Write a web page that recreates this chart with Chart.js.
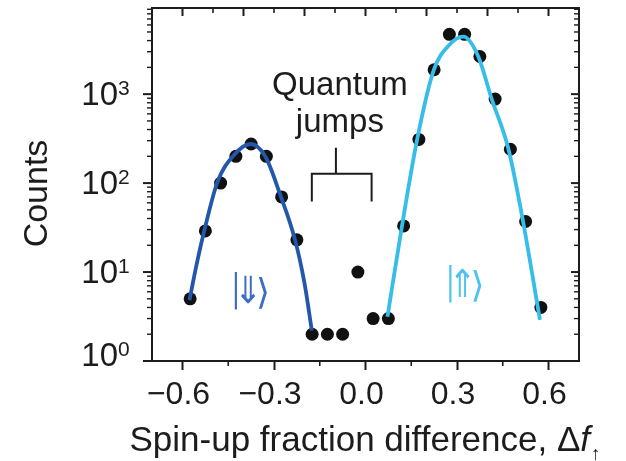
<!DOCTYPE html>
<html>
<head>
<meta charset="utf-8">
<script src="https://cdn.jsdelivr.net/npm/chart.js@4.4.1/dist/chart.umd.min.js"></script>
<style>
  html, body { margin: 0; padding: 0; background: #ffffff; }
  #wrap { width: 626px; height: 461px; position: relative; }
</style>
</head>
<body>
<div id="wrap"><canvas id="chart"></canvas></div>
<script>
// Histogram: bin centres of the spin-up fraction difference and counts per bin
const binCenters = [-0.575, -0.525, -0.475, -0.425, -0.375, -0.325, -0.275, -0.225,
                    -0.175, -0.125, -0.075, -0.025, 0.025, 0.075,
                    0.125, 0.175, 0.225, 0.275, 0.325, 0.375, 0.425, 0.475, 0.525, 0.575];
const counts = [5, 29, 100, 200, 275, 200, 70, 23,
                2, 2, 2, 10, 3, 3,
                33, 310, 1880, 4700, 4700, 2650, 880, 240, 37, 4];

// Fitted distribution for the |⇓⟩ state
const fitDownX = [-0.577, -0.553, -0.528, -0.485, -0.431, -0.377, -0.328, -0.279, -0.231, -0.200, -0.176];
const fitDownY = [4.85, 12.5, 29.7, 104, 207, 275, 198, 73, 23, 7.5, 2.2];

// Fitted distribution for the |⇑⟩ state
const fitUpX = [0.072, 0.119, 0.170, 0.224, 0.272, 0.321, 0.370, 0.413, 0.468, 0.516, 0.572];
const fitUpY = [3.15, 32, 318, 1870, 3500, 4425, 2640, 897, 246, 38, 2.9];

// Axis ticks
const xMajorTicks = [-0.6, -0.3, 0.0, 0.3, 0.6];
const xMinorTicks = [-0.45, -0.15, 0.15, 0.45];
const topMajorTicks = [-0.6, -0.4, -0.2, 0.0, 0.2, 0.4, 0.6];
const topMinorTicks = [-0.5, -0.3, -0.1, 0.1, 0.3, 0.5];
const yMajorTicks = [1, 10, 100, 1000];
const yTickExponents = ['0', '1', '2', '3'];
const yMinorTicks = [2, 3, 4, 5, 6, 7, 8, 9,
                     20, 30, 40, 50, 60, 70, 80, 90,
                     200, 300, 400, 500, 600, 700, 800, 900,
                     2000, 3000, 4000, 5000, 6000, 7000, 8000, 9000];

const FONT = "'Liberation Sans', Arial, Helvetica, sans-serif";
const INK = '#1c1c1c';
const DOWN_COLOR = '#2257ab';
const UP_COLOR = '#36bde9';

// Draw one glyph stretched into a box given as [x0, x1] x [y0, y1] offsets from (ox, oy)
function glyphInBox(ctx, g, font, ox, oy, box) {
  ctx.save();
  ctx.font = font;
  ctx.textAlign = 'left';
  ctx.textBaseline = 'alphabetic';
  const m = ctx.measureText(g);
  const inkL = -m.actualBoundingBoxLeft, inkR = m.actualBoundingBoxRight;
  const inkT = -m.actualBoundingBoxAscent, inkB = m.actualBoundingBoxDescent;
  const sx = (box[1] - box[0]) / (inkR - inkL);
  const sy = (box[3] - box[2]) / (inkB - inkT);
  ctx.translate(ox + box[0], oy + box[2]);
  ctx.scale(sx, sy);
  ctx.fillText(g, -inkL, -inkT);
  ctx.restore();
}

const decor = {
  id: 'decor',
  afterDatasetsDraw(chart) {
    const { ctx, chartArea: a, scales: { x, y } } = chart;
    ctx.save();
    ctx.strokeStyle = INK;
    ctx.lineCap = 'butt';
    const seg = (x1, y1, x2, y2, w) => {
      ctx.lineWidth = w;
      ctx.beginPath(); ctx.moveTo(x1, y1); ctx.lineTo(x2, y2); ctx.stroke();
    };
    // bottom minor ticks (outward)
    xMinorTicks.forEach(v => { const p = x.getPixelForValue(v); seg(p, a.bottom, p, a.bottom + 5, 1.6); });
    // top ticks (inward)
    topMajorTicks.forEach(v => { const p = x.getPixelForValue(v); seg(p, a.top, p, a.top + 8, 2); });
    topMinorTicks.forEach(v => { const p = x.getPixelForValue(v); seg(p, a.top, p, a.top + 5, 1.6); });
    // left ticks (outward) and right ticks (inward)
    yMajorTicks.forEach(v => {
      const p = y.getPixelForValue(v);
      seg(a.left - 9, p, a.left, p, 2);
      seg(a.right - 8, p, a.right, p, 2);
    });
    yMinorTicks.forEach(v => {
      const p = y.getPixelForValue(v);
      seg(a.left - 5, p, a.left, p, 1.4);
      seg(a.right - 5, p, a.right, p, 1.4);
    });
    // frame
    ctx.lineWidth = 2;
    ctx.strokeRect(a.left, a.top, a.right - a.left, a.bottom - a.top);
    ctx.restore();
  },
  afterDraw(chart) {
    const { ctx, chartArea: a, scales: { x, y } } = chart;
    ctx.save();
    ctx.fillStyle = INK;
    ctx.strokeStyle = INK;

    // y tick labels 10^n
    yMajorTicks.forEach((v, i) => {
      const p = y.getPixelForValue(v) + (i === 0 ? -4 : 2);
      ctx.font = `33px ${FONT}`;
      ctx.textAlign = 'right';
      ctx.textBaseline = 'middle';
      ctx.fillText('10', a.left - 34, p);
      ctx.font = `21px ${FONT}`;
      ctx.textAlign = 'left';
      ctx.fillText(yTickExponents[i], a.left - 34, p - 7);
    });

    // y axis title
    ctx.save();
    ctx.translate(a.left - 114, (a.top + a.bottom) / 2 + 9);
    ctx.rotate(-Math.PI / 2);
    ctx.font = `34px ${FONT}`;
    ctx.textAlign = 'center';
    ctx.textBaseline = 'middle';
    ctx.fillText('Counts', 0, 0);
    ctx.restore();

    // x axis title with italic f and arrow subscript
    const main = 'Spin-up fraction difference, Δ';
    ctx.textBaseline = 'alphabetic';
    ctx.textAlign = 'left';
    ctx.font = `35px ${FONT}`;
    const wMain = ctx.measureText(main).width;
    ctx.font = `italic 35px ${FONT}`;
    const wF = ctx.measureText('f').width;
    ctx.font = `19px ${FONT}`;
    const wArr = ctx.measureText('↑').width;
    const total = wMain + wF + wArr;
    let tx = (a.left + a.right) / 2 - total / 2 - 1;
    const base = 451;
    ctx.font = `35px ${FONT}`;
    ctx.fillText(main, tx, base);
    tx += wMain;
    ctx.font = `italic 35px ${FONT}`;
    ctx.fillText('f', tx, base);
    tx += wF + 1;
    ctx.font = `19px ${FONT}`;
    ctx.fillText('↑', tx, base + 9);

    // "Quantum jumps" annotation
    const qx = x.getPixelForValue(-0.084);
    ctx.font = `33px ${FONT}`;
    ctx.textAlign = 'center';
    ctx.fillText('Quantum', qx, y.getPixelForValue(980));
    ctx.fillText('jumps', qx, y.getPixelForValue(378));

    // bracket over the jump events
    const bl = x.getPixelForValue(-0.176), br = x.getPixelForValue(0.020), bs = x.getPixelForValue(-0.097);
    const yTop = y.getPixelForValue(249), yMid = y.getPixelForValue(127), yLeg = y.getPixelForValue(62);
    ctx.lineWidth = 2;
    ctx.beginPath();
    ctx.moveTo(bs, yTop); ctx.lineTo(bs, yMid);
    ctx.moveTo(bl, yLeg); ctx.lineTo(bl, yMid); ctx.lineTo(br, yMid); ctx.lineTo(br, yLeg);
    ctx.stroke();

    // state labels |⇓⟩ and |⇑⟩, each glyph fitted into its own box
    const ket = (arrow, vx, vy, color) => {
      const ox = x.getPixelForValue(vx), oy = y.getPixelForValue(vy);
      ctx.save();
      ctx.fillStyle = color;
      const f = `40px 'DejaVu Sans', ${FONT}`;
      glyphInBox(ctx, '|', f, ox, oy, [0, 2.6, 0, 38]);
      glyphInBox(ctx, arrow, f, ox, oy, [6, 21, 3, 32]);
      glyphInBox(ctx, '⟩', f, ox, oy, [24, 33, 4, 37]);
      ctx.restore();
    };
    ket('⇓', -0.4286, 10.0, '#3d6cc4');
    ket('⇑', 0.2744, 12.0, '#4cc4ee');

    ctx.restore();
  }
};

const pts = binCenters.map((v, i) => ({ x: v, y: counts[i] }));
const downPts = fitDownX.map((v, i) => ({ x: v, y: fitDownY[i] }));
const upPts = fitUpX.map((v, i) => ({ x: v, y: fitUpY[i] }));

new Chart(document.getElementById('chart'), {
  type: 'scatter',
  data: {
    datasets: [
      { data: downPts, showLine: true, borderColor: DOWN_COLOR, borderWidth: 3.8,
        pointRadius: 0, cubicInterpolationMode: 'monotone', order: 0 },
      { data: upPts, showLine: true, borderColor: UP_COLOR, borderWidth: 3.8,
        pointRadius: 0, cubicInterpolationMode: 'monotone', order: 0 },
      { data: pts, showLine: false, pointRadius: 6.5, pointBackgroundColor: '#111111',
        pointBorderWidth: 0, order: 1 }
    ]
  },
  options: {
    responsive: true,
    maintainAspectRatio: false,
    animation: false,
    events: [],
    layout: { padding: { left: 0, right: 47, top: 8, bottom: 0 } },
    plugins: { legend: { display: false }, tooltip: { enabled: false } },
    scales: {
      x: {
        type: 'linear',
        min: -0.7, max: 0.7,
        afterBuildTicks: s => { s.ticks = xMajorTicks.map(v => ({ value: v })); },
        afterFit: s => { s.height = 100; },
        grid: { display: true, drawOnChartArea: false, drawTicks: true, tickLength: 9,
                tickWidth: 2, tickColor: INK },
        border: { display: false },
        ticks: {
          color: INK,
          font: { family: FONT, size: 32 },
          padding: 6,
          labelOffset: -4,
          maxRotation: 0,
          callback: v => (v < 0 ? '−' : '') + Math.abs(v).toFixed(1)
        }
      },
      y: {
        type: 'logarithmic',
        min: 1, max: 9300,
        afterFit: s => { s.width = 152; },
        grid: { display: false },
        border: { display: false },
        ticks: { display: false }
      }
    }
  },
  plugins: [decor]
});
</script>
</body>
</html>
